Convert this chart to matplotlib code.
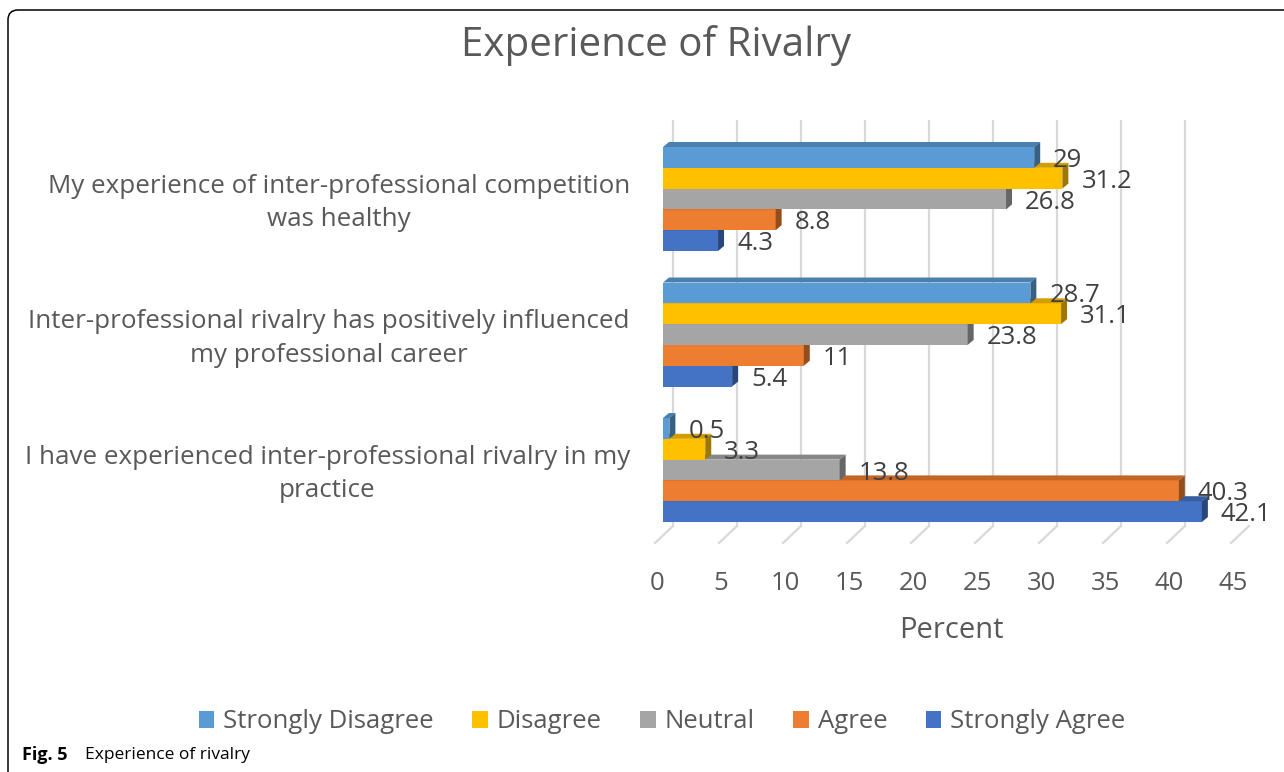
import numpy as np
import matplotlib
matplotlib.use("Agg")
from matplotlib import pyplot as plt
from matplotlib.patches import Polygon, Patch, FancyBboxPatch
from matplotlib.transforms import IdentityTransform, ScaledTranslation, blended_transform_factory
from matplotlib.colors import to_rgb

categories = [
    "My experience of inter-professional competition\nwas healthy",
    "Inter-professional rivalry has positively influenced\nmy professional career",
    "I have experienced inter-professional rivalry in my\npractice",
]
series = ["Strongly Disagree", "Disagree", "Neutral", "Agree", "Strongly Agree"]
colors = ["#5B9BD5", "#FFC000", "#A5A5A5", "#ED7D31", "#4472C4"]
strongly_disagree = [29, 28.7, 0.5]
disagree = [31.2, 31.1, 3.3]
neutral = [26.8, 23.8, 13.8]
agree = [8.8, 11, 40.3]
strongly_agree = [4.3, 5.4, 42.1]
values = [strongly_disagree, disagree, neutral, agree, strongly_agree]
xticks = [0, 5, 10, 15, 20, 25, 30, 35, 40, 45]

TEXT = "#595959"
plt.rcParams['font.family'] = ['Open Sans', 'DejaVu Sans']

W, H = 1284, 772
fig = plt.figure(figsize=(W / 100, H / 100), dpi=100)

# pixel layout helpers
px_x = 12.8      # pixels per percent
px_y = 135.5     # pixels per category
y0_px = 199      # pixel row of first category centre
ax_top, ax_bot = 120, 545
ax = fig.add_axes([663 / W, (H - ax_bot) / H, 576 / W, (ax_bot - ax_top) / H])
ax.set_xlim(0, 45)
ax.set_ylim((ax_bot - y0_px) / px_y, (ax_top - y0_px) / px_y)
for s in ax.spines.values():
    s.set_visible(False)
ax.set_yticks([])


def ux(p):
    return p / px_x


def uy(p):
    return p / px_y


# back wall gridlines + floor
y_wall_top = (ax_top - y0_px) / px_y
y_floor = (526 - y0_px) / px_y
for t in xticks:
    ax.plot([t + ux(10), t + ux(10)], [y_wall_top, y_floor], color="#D9D9D9", lw=1.6, zorder=0,
            solid_capstyle='butt')
    ax.plot([t + ux(10), t - ux(8)], [y_floor, y_floor + uy(17)], color="#D9D9D9", lw=1.6, zorder=0,
            clip_on=False)

ax.set_xticks(xticks)
ax.set_xticklabels([str(t) for t in xticks])
ax.tick_params(axis='x', length=0, pad=19, labelsize=18.5, labelcolor=TEXT)
for lab in ax.get_xticklabels():
    lab.set_transform(lab.get_transform() + ScaledTranslation(-0.06, 0, fig.dpi_scale_trans))
ax.set_xlabel("Percent", fontsize=21, color=TEXT, labelpad=14)

# bars with a little depth
h = 20.8 / px_y
dx, dy = ux(6), -uy(5)


def darker(c, f):
    r, g, b = to_rgb(c)
    return (r * f, g * f, b * f)


z = 2
for i in reversed(range(len(series))):
    for j, v in enumerate(values[i]):
        yc = j + (i - 2) * h
        top, bot = yc - h / 2, yc + h / 2
        ax.barh(yc, v, height=h, color=colors[i], zorder=z, linewidth=0)
        ax.add_patch(Polygon([(0, top), (v, top), (v + dx, top + dy), (dx, top + dy)],
                             closed=True, fc=darker(colors[i], 0.82), ec='none', zorder=z))
        ax.add_patch(Polygon([(v, top), (v, bot), (v + dx, bot + dy), (v + dx, top + dy)],
                             closed=True, fc=darker(colors[i], 0.62), ec='none', zorder=z))
        ax.text(v + ux(19), yc + uy(3), f"{v:g}", ha='left', va='center', fontsize=18.5,
                color="#404040", zorder=20, clip_on=False)
        z += 1

# category labels
tr = blended_transform_factory(ax.transAxes, ax.transData)
for j, cat in enumerate(categories):
    ax.text(0, j + uy(4), cat, transform=tr + ScaledTranslation(-0.33, 0, fig.dpi_scale_trans),
            ha='right', va='center', multialignment='center', fontsize=18.7, color=TEXT,
            linespacing=1.45, clip_on=False)

fig.text(656 / W, 1 - 45 / H, "Experience of Rivalry", ha='center', va='center', fontsize=29, color=TEXT)

handles = [Patch(facecolor=c, edgecolor='none', label=s) for c, s in zip(colors, series)]
fig.legend(handles=handles, loc='center', bbox_to_anchor=(662 / W, 1 - 722 / H), ncol=5, frameon=False,
           fontsize=18.5, labelcolor=TEXT, handlelength=0.6, handleheight=0.6, handletextpad=0.35,
           columnspacing=1.5)

# caption and frame
fig.text(22 / W, 1 - 755 / H, "Fig. 5", fontsize=13, fontweight='bold', va='center', ha='left')
fig.text(85 / W, 1 - 755 / H, "Experience of rivalry", fontsize=12.5, va='center', ha='left')
frame = FancyBboxPatch((8, -40), W + 100, H - 10 + 40, boxstyle="round,pad=0,rounding_size=10",
                       transform=IdentityTransform(), fill=False, ec='black', lw=1.1)
fig.add_artist(frame)

fig.savefig("out.png", dpi=100)
